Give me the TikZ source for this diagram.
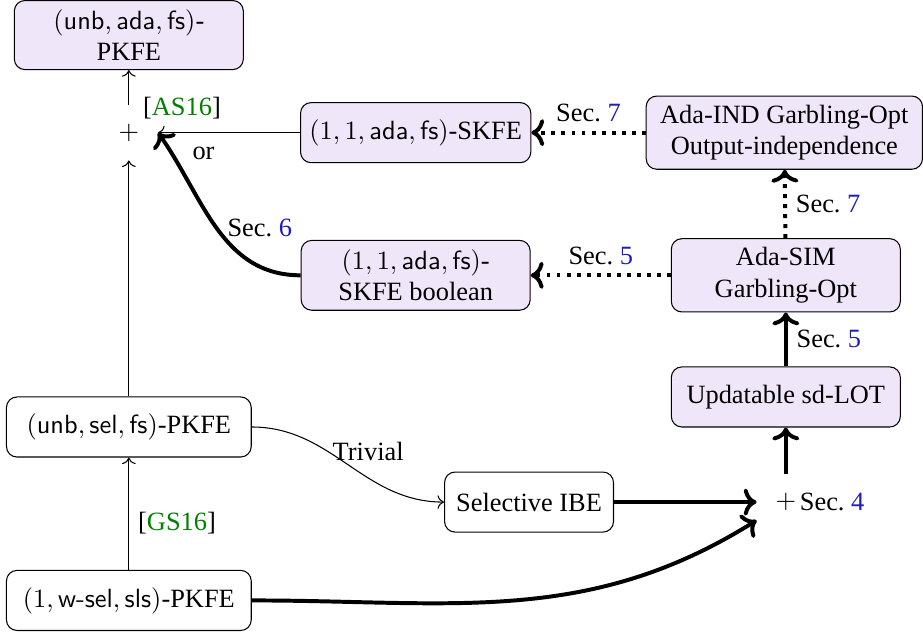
\documentclass[tikz,border=0pt]{standalone}
\usepackage{amsmath}
\usepackage{fontspec}
\setmainfont{Liberation Serif}
\usepackage{tikz}
\usetikzlibrary{positioning}
\usetikzlibrary{calc}
\usetikzlibrary{arrows.meta}

\definecolor{boxfill}{RGB}{240,230,250}
\definecolor{citegreen}{RGB}{0,128,0}
\definecolor{secblue}{RGB}{30,30,180}

\newcommand{\secref}[1]{Sec.~\textcolor{secblue}{#1}}
\newcommand{\citeref}[1]{[\textcolor{citegreen}{#1}]}

\tikzset{
	purplebox/.style={draw, fill=boxfill, rounded corners, align=center,
		minimum width=3.05cm, minimum height=0.8cm},
	whitebox/.style={draw, fill=white, rounded corners, align=center,
		minimum height=0.8cm},
	plusnode/.style={inner sep=7pt},
	thinarrow/.style={-{To}},
	thickarrow/.style={-{To}, line width=1.5pt},
	dotarrow/.style={-{To}, line width=1.5pt, dash pattern=on 1.5pt off 2.3pt}
}

\begin{document}
\begin{tikzpicture}[on grid]

\node[
	purplebox,
	minimum height=0.9cm
] (top) {$(\textsf{unb}, \textsf{ada}, \textsf{fs})$-\\PKFE};

\node[
	plusnode,
	below=1.30cm of top,
	label={[name=asref, label distance=-12.7pt]north east:\citeref{AS16}}
] (plus1) {$+$};

\node[
	purplebox,
	right=3.82cm of plus1
] (skfe) {$(1, 1, \textsf{ada}, \textsf{fs})$-SKFE};

\node[
	purplebox,
	minimum width=3.68cm,
	minimum height=0.97cm,
	right=4.91cm of skfe
] (adaind) {Ada-IND Garbling-Opt\\Output-independence};

\node[
	purplebox,
	minimum height=0.93cm,
	below=1.90cm of skfe
] (skfebool) {$(1, 1, \textsf{ada}, \textsf{fs})$-\\SKFE boolean};

\node[
	purplebox,
	minimum height=0.97cm,
	right=4.93cm of skfebool
] (adasim) {Ada-SIM\\Garbling-Opt};

\node[
	purplebox,
	below=1.62cm of adasim
] (lot) {Updatable sd-LOT};

\node[
	plusnode,
	below=1.40cm of lot,
	label={[name=secfour, label distance=-9.3pt]east:\secref{4}}
] (plus2) {$+$};

\node[
	whitebox,
	minimum width=2.25cm,
	left=3.42cm of plus2
] (ibe) {Selective IBE};

\node[
	whitebox,
	minimum width=3.26cm,
	below=3.92cm of plus1
] (unbsel) {$(\textsf{unb}, \textsf{sel}, \textsf{fs})$-PKFE};

\node[
	whitebox,
	minimum width=3.26cm,
	below=2.31cm of unbsel
] (wsel) {$(1, \textsf{w-sel}, \textsf{sls})$-PKFE};

% frame
\useasboundingbox ([xshift=-1.716cm, yshift=0.452cm]top.center) rectangle ++(12.276,-8.4455);

% ---

\draw[thinarrow] (plus1) -- (top);

\draw[thinarrow] (unbsel) -- (plus1);

\draw[thinarrow] (wsel) -- (unbsel)
	node[pos=0.42, right]{\citeref{GS16}};

\draw[thinarrow] (skfe) -- (plus1.east)
	node[pos=0.68, below=2pt]{or};

\draw[thickarrow] (skfebool.west) to[out=180, in=-55]
	node[midway, right]{\secref{6}} (plus1.east);

\draw[thinarrow] (unbsel.east) to[out=0, in=180]
	node[pos=0.62, above=3pt]{Trivial} (ibe.west);

\draw[thickarrow] (ibe) -- (plus2);

\draw[thickarrow] (wsel.east) to[out=0, in=212] (plus2);

\draw[thickarrow] (plus2) -- (lot);

\draw[thickarrow] (lot) -- (adasim)
	node[midway, right]{\secref{5}};

\draw[dotarrow] (adasim) -- (adaind)
	node[midway, right]{\secref{7}};

\draw[dotarrow] (adaind) -- (skfe)
	node[midway, above]{\secref{7}};

\draw[dotarrow] (adasim) -- (skfebool)
	node[midway, above]{\secref{5}};

\end{tikzpicture}
\end{document}
